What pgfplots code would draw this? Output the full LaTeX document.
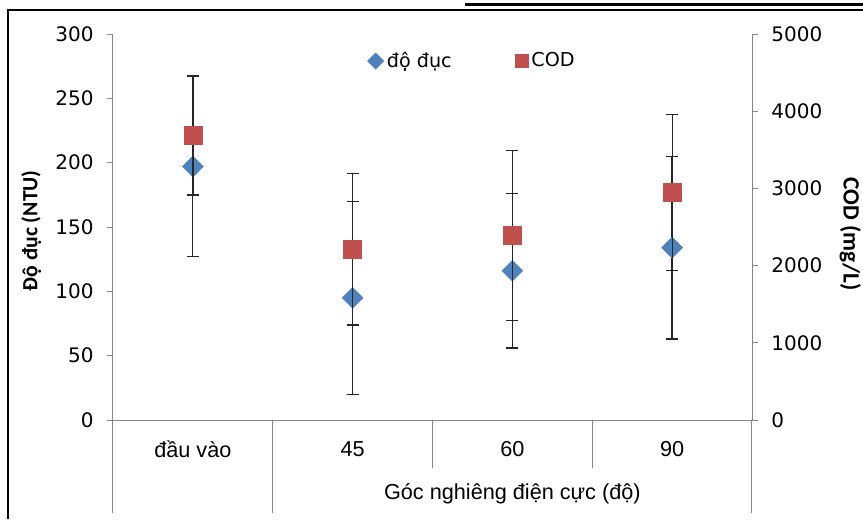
\documentclass[border=0pt]{standalone}
\usepackage{fontspec}
\setmainfont{Liberation Sans}
\newfontfamily\dejavu{DejaVu Sans}
\newfontfamily\carlito{Carlito}
\usepackage{pgfplots}
\usepackage{pgfplotstable}
\pgfplotsset{compat=1.18}
\definecolor{ntublue}{HTML}{4F81BD}
\definecolor{codred}{HTML}{C0504D}
\definecolor{axgray}{HTML}{868686}
\pgfplotstableread{
x y e
0 197 70
1 95 75
2 116 60
3 134 71
}\ntudata
\pgfplotstableread{
x y e
0 3690 775
1 2210 980
2 2390 1100
3 2950 1010
}\coddata
\begin{document}
\begin{tikzpicture}
\path[use as bounding box] (0,0) rectangle (517.8pt,311.4pt);
\draw[black, line width=0.9pt] (4.8pt,0) -- (4.8pt,305.4pt) -- (517.8pt,305.4pt);
\draw[black, line width=1.8pt] (279pt,308.6pt) -- (517.8pt,308.6pt);
\begin{axis}[
  at={(67.8pt,59.4pt)}, anchor=south west, scale only axis,
  width=383.4pt, height=231.6pt,
  xmin=-0.5, xmax=3.5, ymin=0, ymax=300,
  axis y line*=left, axis x line*=bottom,
  xtick={0,1,2,3}, xticklabels={đầu vào,45,60,90},
  x tick style={draw=none},
  xticklabel style={font=\fontsize{13}{15}\selectfont, anchor=center, yshift=-14pt},
  ytick={0,50,...,300},
  tick align=outside, major tick length=3.6pt,
  y tick style={axgray, line width=0.6pt},
  axis line style={axgray, line width=0.6pt, -},
  yticklabel style={font=\dejavu\fontsize{12}{14}\selectfont, xshift=-4.5pt},
  /pgf/number format/assume math mode=true,
  ylabel={Độ đục (NTU)},
  every axis y label/.style={at={(axis description cs:-0.128,0.49)}, rotate=90, anchor=center, font=\carlito\bfseries\fontsize{13}{15}\selectfont},
  clip=false,
]
\addplot[only marks, mark=square*, mark size=4.4pt,
  mark options={rotate=45, fill=ntublue, draw=ntublue},
  error bars/.cd, y dir=both, y explicit,
  error bar style={black!85, line width=0.75pt},
  error mark=-, error mark options={rotate=90, mark size=3.6pt, black!85, line width=0.75pt}]
  table[x=x, y=y, y error=e] {\ntudata};
\draw[axgray, line width=0.6pt] (axis cs:-0.5,0) -- ++(0pt,-55.8pt);
\draw[axgray, line width=0.6pt] (axis cs:0.5,0) -- ++(0pt,-55.8pt);
\draw[axgray, line width=0.6pt] (axis cs:1.5,0) -- ++(0pt,-28.8pt);
\draw[axgray, line width=0.6pt] (axis cs:2.5,0) -- ++(0pt,-28.8pt);
\draw[axgray, line width=0.6pt] (axis cs:3.5,0) -- ++(0pt,-55.8pt);
\node[font=\fontsize{13}{15}\selectfont] at (axis cs:2,0) [yshift=-44.4pt] {Góc nghiêng điện cực (độ)};
\end{axis}
\begin{axis}[
  at={(67.8pt,59.4pt)}, anchor=south west, scale only axis,
  width=383.4pt, height=231.6pt,
  xmin=-0.5, xmax=3.5, ymin=0, ymax=5000,
  axis y line*=right, axis x line=none,
  ytick={0,1000,...,5000},
  tick align=outside, major tick length=3.6pt,
  y tick style={axgray, line width=0.6pt},
  axis line style={axgray, line width=0.6pt, -},
  yticklabel style={font=\dejavu\fontsize{12}{14}\selectfont, xshift=4.5pt, /pgf/number format/1000 sep={}},
  /pgf/number format/assume math mode=true,
  ylabel={COD (mg/L)},
  every axis y label/.style={at={(axis description cs:1.154,0.482)}, rotate=-90, anchor=center, font=\carlito\bfseries\fontsize{14}{16}\selectfont},
  legend columns=2,
  legend style={draw=none, fill=none, at={(axis description cs:0.563,0.93)}, anchor=center, font=\dejavu\fontsize{11.5}{13}\selectfont},
  legend cell align=left,
  /tikz/every even column/.append style={column sep=36pt},
  clip=false,
]
\addlegendimage{only marks, mark=square*, mark size=3.4pt, mark options={rotate=45, fill=ntublue, draw=ntublue}}
\addlegendentry{độ đục}
\addlegendimage{only marks, mark=square*, mark size=3.9pt, mark options={fill=codred, draw=codred}}
\addlegendentry{COD}
\addplot[forget plot, only marks, mark=square*, mark size=5.4pt,
  mark options={fill=codred, draw=codred},
  error bars/.cd, y dir=both, y explicit,
  error bar style={black!85, line width=0.75pt},
  error mark=-, error mark options={rotate=90, mark size=3.6pt, black!85, line width=0.75pt}]
  table[x=x, y=y, y error=e] {\coddata};
\end{axis}
\end{tikzpicture}
\end{document}
